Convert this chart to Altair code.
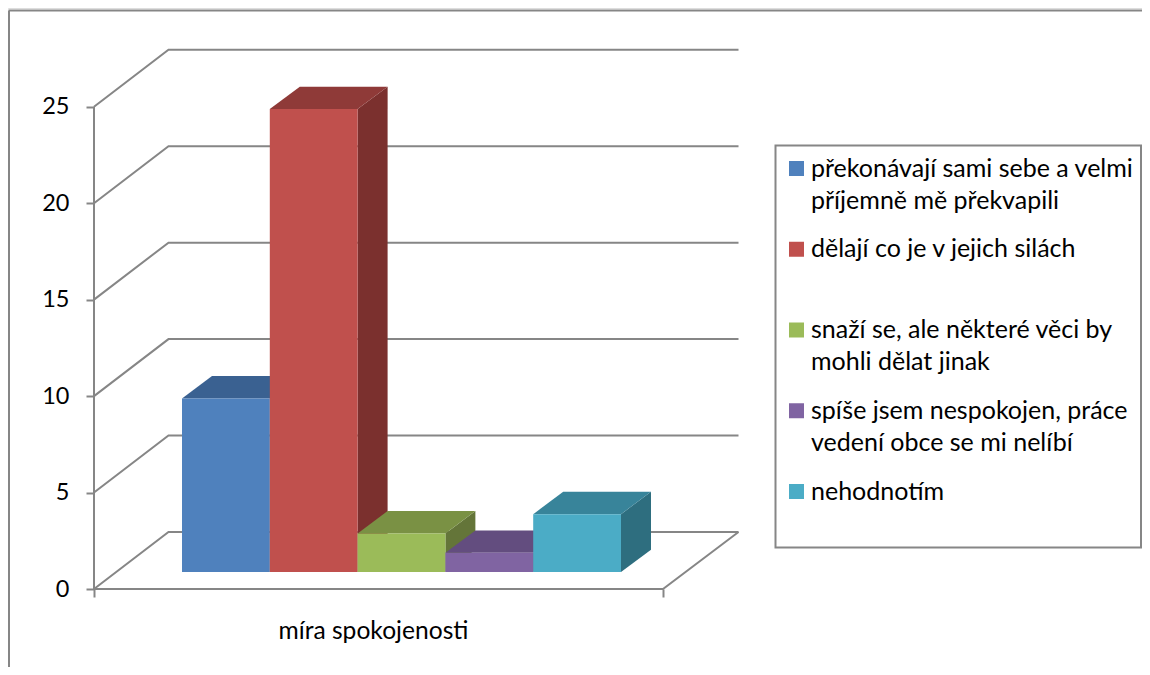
import altair as alt
import pandas as pd

categories = [
    "překonávají sami sebe a velmi|příjemně mě překvapili",
    "dělají co je v jejich silách",
    "snaží se, ale některé věci by|mohli dělat jinak",
    "spíše jsem nespokojen, práce|vedení obce se mi nelíbí",
    "nehodnotím",
]
values = [9, 24, 2, 1, 3]
front_colors = ["#4F81BD", "#C0504D", "#9BBB59", "#8064A2", "#4BACC6"]
top_colors = ["#3A6191", "#8F3A38", "#7A9144", "#634D7F", "#38849A"]
side_colors = ["#2F4F78", "#7B302E", "#647539", "#514068", "#2E6E7F"]
y_ticks = [0, 5, 10, 15, 20, 25]
x_title = "míra spokojenosti"

# projection of the 3-D box onto the page (x in page pixels, y in value units)
PX = 19.29                # pixels per value unit
W, H = 1134, 659          # chart size
BOTTOM = 8 + H
ZERO_Y = 589
X0, X1, WALL_DX = 94, 663, 74.5
WALL_DV = 57 / PX
BAR_X = 182
BAR_W = 87.8
BAR_DX = 30
BAR_DV = 22.3 / PX
BAR_BASE = 17 / PX

x_scale = alt.Scale(domain=[8, 8 + W], range=[0, W], nice=False, zero=False)
y_scale = alt.Scale(domain=[(ZERO_Y - BOTTOM) / PX, (ZERO_Y - 8) / PX], range=[H, 0], nice=False, zero=False)
X = lambda f="x", **k: alt.X(f, type="quantitative", scale=x_scale, **k)
Y = lambda f="y", **k: alt.Y(f, type="quantitative", scale=y_scale, **k)
LINE = "#868686"

# wall and floor lines
rows = []
for t in y_ticks:
    rows += [
        {"s": t, "o": 0, "x": X0, "y": t},
        {"s": t, "o": 1, "x": X0 + WALL_DX, "y": t + WALL_DV},
        {"s": t, "o": 2, "x": X1 + WALL_DX + 1, "y": t + WALL_DV},
    ]
rows += [
    {"s": -1, "o": 0, "x": X0, "y": 0},
    {"s": -1, "o": 1, "x": X1, "y": 0},
    {"s": -1, "o": 2, "x": X1 + WALL_DX + 1, "y": WALL_DV},
]
grid = alt.Chart(pd.DataFrame(rows)).mark_line(color=LINE, strokeWidth=2).encode(
    x=X(
        axis=alt.Axis(
            values=[X0, X1], orient="bottom", offset=-(BOTTOM - ZERO_Y), domain=False, grid=False, labels=False,
            tickSize=8, tickColor=LINE, tickWidth=2, title=x_title, titleFont="Lato",
            titleFontSize=24.6, titleFontWeight="normal", titleColor="#000000",
            titleX=373 - 8, titleY=30,
        )
    ),
    y=Y(
        axis=alt.Axis(
            values=y_ticks, orient="left", offset=-86, domain=False, grid=False, tickSize=8,
            tickColor=LINE, tickWidth=2, labelFont="Lato", labelFontSize=23.5, labelColor="#000000",
            labelPadding=17, title=None,
        )
    ),
    detail="s:N",
    order="o:Q",
)
y_line = alt.Chart(pd.DataFrame({"x": [X0], "y": [0], "y2": [max(y_ticks)]})).mark_rule(
    color=LINE, strokeWidth=2
).encode(x=X(), y=Y(), y2="y2:Q")

# outer frame: only top and left edges are visible in the picture
frame_top = alt.Chart(pd.DataFrame({"a": [0]})).mark_rule(color=LINE, strokeWidth=2).encode(
    x=alt.value(1), x2=alt.value(W), y=alt.value(2.5)
)
frame_left = alt.Chart(pd.DataFrame({"a": [0]})).mark_rule(color=LINE, strokeWidth=2).encode(
    x=alt.value(1), y=alt.value(2.5), y2=alt.value(H)
)
# legend box: drawn apart so its height and width can be set independently of the entries
legend_box = alt.Chart(pd.DataFrame({"a": [0]})).mark_rect(
    fill="#ffffff", stroke=LINE, strokeWidth=2
).encode(
    x=alt.value(775.5 - 8), x2=alt.value(W - 1), y=alt.value(145.5 - 8), y2=alt.value(547.5 - 8)
)

layers = [frame_top, frame_left, legend_box, grid, y_line]
color_scale = alt.Scale(domain=categories, range=front_colors)
legend = alt.Legend(
    title=None,
    orient="none",
    legendX=776,
    legendY=148,
    symbolType="square",
    symbolSize=225,
    symbolStrokeWidth=0,
    labelFont="Lato",
    labelFontSize=25,
    labelColor="#000000",
    labelLimit=500,
    labelOffset=2,
    labelExpr="split(datum.label, '|')",
    rowPadding=22.75,
    gridAlign="all",
    padding=0,
)

for i, (cat, v) in enumerate(zip(categories, values)):
    l = BAR_X + i * BAR_W
    r = l + BAR_W
    b = BAR_BASE
    t = BAR_BASE + v
    side = alt.Chart(pd.DataFrame({"x": [r, r + BAR_DX], "y": [t, t + BAR_DV], "y2": [b, b + BAR_DV]})).mark_area(
        color=side_colors[i], orient="vertical"
    ).encode(x=X(), y=Y(), y2="y2:Q")
    top = alt.Chart(pd.DataFrame({"x": [l, l + BAR_DX], "x2": [r, r + BAR_DX], "y": [t, t + BAR_DV]})).mark_area(
        color=top_colors[i], orient="horizontal"
    ).encode(x=X(), x2="x2:Q", y=Y())
    front = alt.Chart(pd.DataFrame({"x": [l], "x2": [r], "y": [t], "y2": [b], "cat": [cat]})).mark_rect().encode(
        x=X(), x2="x2:Q", y=Y(), y2="y2:Q",
        color=alt.Color("cat:N", scale=color_scale, sort=categories, legend=legend),
    )
    layers += [side, top, front]

chart = (
    alt.layer(*layers)
    .properties(width=W, height=H, padding=0, autosize=alt.AutoSizeParams(type="none"), background="#ffffff")
    .configure_view(stroke=None)
    .configure(style={"guide-label": {"lineHeight": 32}})
)
chart.save("out.html", embed_options={"renderer": "svg", "actions": False})
